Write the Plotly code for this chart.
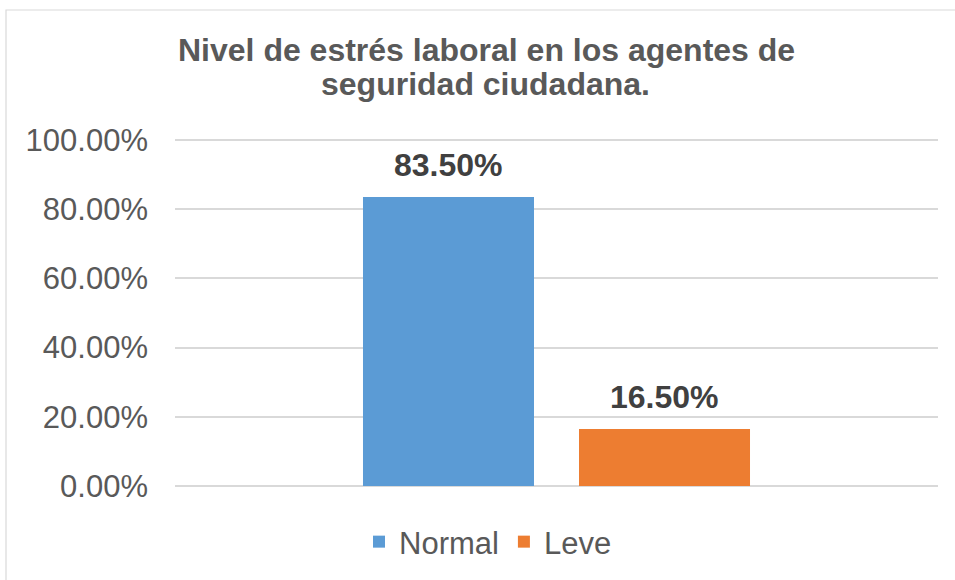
import plotly.graph_objects as go

# ---- data ----
categories = [""]
series_names = ["Normal", "Leve"]
normal_values = [0.835]
leve_values = [0.165]
title_lines = ["Nivel de estrés laboral en los agentes de", "seguridad ciudadana."]
y_tick_values = [0, 0.2, 0.4, 0.6, 0.8, 1.0]

colors = ["#5B9BD5", "#ED7D31"]
FONT = "Liberation Sans, Arial, sans-serif"

W, H = 955, 580
L, R, T, B = 175, 17, 139, 94
plot_h = H - T - B
plot_w = W - L - R
BARGAP, BARGROUPGAP = 0.4338, 0.2083
Y_MAX = 1.003

fig = go.Figure()
series_values = [normal_values, leve_values]
for name, vals, col in zip(series_names, series_values, colors):
    fig.add_trace(go.Bar(
        x=categories, y=vals, name=name, marker=dict(color=col, line=dict(width=0)),
        hoverinfo="skip",
    ))

def pyp(px):
    return (H - B - px) / plot_h

def pxx(px):
    return (px - L) / plot_w

annotations = []
for line, ypx, xpx in zip(title_lines, [50, 84], [486.5, 485]):
    annotations.append(dict(
        text="<b>" + line + "</b>", xref="paper", yref="paper", x=pxx(xpx), y=pyp(ypx),
        xanchor="center", yanchor="middle", showarrow=False,
        font=dict(family=FONT, size=32, color="#595959"),
    ))

# data labels above each bar (grouped positions computed from bargap)
n_series = len(series_names)
slot = (1 - BARGAP) / n_series
for i, vals in enumerate(series_values):
    offset = -(1 - BARGAP) / 2 + slot * (i + 0.5)
    for ci, v in enumerate(vals):
        annotations.append(dict(
            text="<b>" + f"{v:.2%}" + "</b>", xref="x", yref="y", x=ci + offset, y=v,
            xanchor="center", yanchor="bottom", yshift=12, showarrow=False,
            font=dict(family=FONT, size=32, color="#404040"),
        ))

fig.update_layout(
    width=W, height=H,
    margin=dict(l=L, r=R, t=T, b=B, pad=0, autoexpand=False),
    paper_bgcolor="white", plot_bgcolor="white",
    barmode="group", bargap=BARGAP, bargroupgap=BARGROUPGAP,
    showlegend=True,
    legend=dict(orientation="h", x=pxx(488), xanchor="center", y=pyp(542), yanchor="middle",
                font=dict(family=FONT, size=31, color="#595959"), bgcolor="rgba(0,0,0,0)",
                traceorder="normal"),
    annotations=annotations,
    xaxis=dict(showticklabels=False, showgrid=False, showline=False, zeroline=False, ticks=""),
    yaxis=dict(range=[0, Y_MAX], tickvals=y_tick_values, tickformat=".2%",
               showgrid=True, gridcolor="#D9D9D9", gridwidth=1.5,
               zeroline=True, zerolinecolor="#D9D9D9", zerolinewidth=1.5,
               showline=False, ticks="", ticklabelstandoff=26,
               tickfont=dict(family=FONT, size=31, color="#595959")),
    shapes=[dict(type="rect", xref="paper", yref="paper",
                 x0=pxx(6), x1=pxx(970), y0=pyp(600), y1=pyp(10),
                 line=dict(color="#D9D9D9", width=1.2), fillcolor="rgba(0,0,0,0)", layer="below")],
)

fig.write_html("out.html", config={"displayModeBar": False},
               post_script="document.body.style.margin='0';document.body.style.overflow='hidden';")
